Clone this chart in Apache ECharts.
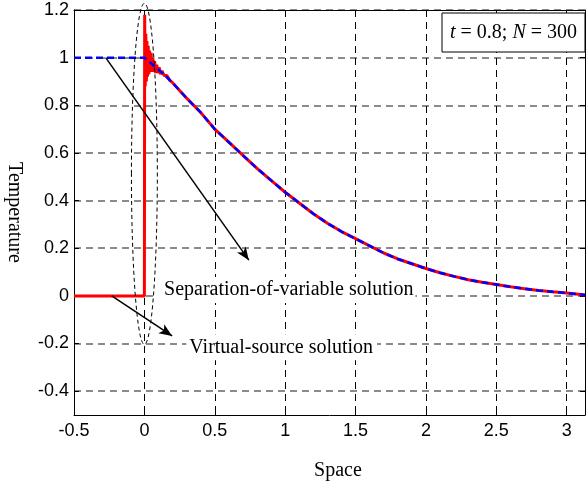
<!DOCTYPE html>
<html>
<head>
<meta charset="utf-8">
<script src="https://cdn.jsdelivr.net/npm/echarts@6/dist/echarts.min.js"></script>
<style>
html, body { margin: 0; padding: 0; background: #fff; }
#main { width: 586px; height: 483px; }
</style>
</head>
<body>
<div id="main"></div>
<script>
// tick labels
const xTicks = [-0.5, 0, 0.5, 1, 1.5, 2, 2.5, 3];
const yTicks = [-0.4, -0.2, 0, 0.2, 0.4, 0.6, 0.8, 1, 1.2];

// separation-of-variable solution (blue dashed)
const sepX = [-0.5, 0, 0.1, 0.2, 0.3, 0.4, 0.5, 0.6, 0.7, 0.8, 0.9, 1.0, 1.1, 1.2, 1.3, 1.4, 1.5,
  1.6, 1.7, 1.8, 1.9, 2.0, 2.1, 2.2, 2.3, 2.4, 2.5, 2.6, 2.7, 2.8, 2.9, 3.0, 3.1, 3.13];
const sepY = [1, 1, 0.95, 0.895, 0.83, 0.77, 0.70, 0.645, 0.59, 0.535, 0.485, 0.435, 0.39, 0.345, 0.305, 0.27, 0.24,
  0.21, 0.18, 0.155, 0.135, 0.115, 0.097, 0.082, 0.068, 0.057, 0.048, 0.038, 0.03, 0.023, 0.017, 0.012, 0.006, 0.004];

// virtual-source solution (red), step + Gibbs ringing near x = 0
const virtHeadX = [-0.5, 0, 0.002, 0.006, 0.01, 0.014, 0.018, 0.022, 0.027, 0.032, 0.037, 0.042, 0.048,
  0.054, 0.06, 0.066, 0.073, 0.08, 0.088, 0.096, 0.105, 0.115, 0.125, 0.14, 0.16, 0.18];
const virtHeadY = [0, 0, 1.18, 0.88, 1.1, 0.9, 1.07, 0.92, 1.05, 0.93, 1.03, 0.94, 1.02,
  0.94, 1.0, 0.94, 0.985, 0.935, 0.97, 0.935, 0.96, 0.93, 0.945, 0.925, 0.925, 0.905];
const virtX = virtHeadX.concat(sepX.slice(3));
const virtY = virtHeadY.concat(sepY.slice(3));

// annotations (data coords)
const arrowSep = [[-0.275, 1.0], [0.742, 0.15]];
const arrowVirt = [[-0.232, 0.0], [0.197, -0.168]];
const sepLabelPos = [0.097, 0.025];
const virtLabelPos = [0.298, -0.216];
const ellipseC = [0.0, 0.512];
const ellipseR = [0.092, 0.716];

const xMin = -0.5, xMax = 3.13, yMin = -0.5, yMax = 1.2;

const serif = '"Liberation Serif", "Times New Roman", serif';
const sans = '"Liberation Sans", Arial, sans-serif';

const myChart = echarts.init(document.getElementById('main'));

const zip = (xs, ys) => xs.map((x, i) => [x, ys[i]]);

const option = {
  animation: false,
  grid: { left: 74, top: 10, right: 1, bottom: 68, show: false, outerBoundsMode: 'none', containLabel: false },
  xAxis: [
    {
      type: 'value', min: xMin, max: xMax,
      name: 'Space', nameLocation: 'middle', nameGap: 46,
      nameTextStyle: { fontFamily: serif, fontSize: 20, color: '#000', padding: [0, 0, 0, 17] },
      axisLine: { show: true, onZero: false, lineStyle: { color: '#000', width: 1 } },
      axisTick: { show: true, inside: true, length: 5, customValues: xTicks, lineStyle: { color: '#000' } },
      axisLabel: { customValues: xTicks, fontFamily: sans, fontSize: 18, color: '#000', margin: 7 },
      splitLine: { show: true, lineStyle: { color: '#000', width: 1, type: [7, 5] } }
    },
    {
      type: 'value', min: xMin, max: xMax, position: 'top',
      axisLine: { show: true, onZero: false, lineStyle: { color: '#000', width: 1 } },
      axisTick: { show: true, inside: true, length: 5, customValues: xTicks, lineStyle: { color: '#000' } },
      axisLabel: { show: false },
      splitLine: { show: false }
    }
  ],
  yAxis: [
    {
      type: 'value', min: yMin, max: yMax,
      name: 'Temperature', nameLocation: 'middle', nameGap: 50, nameRotate: -90,
      nameTextStyle: { fontFamily: serif, fontSize: 20, color: '#000' },
      axisLine: { show: true, onZero: false, lineStyle: { color: '#000', width: 1 } },
      axisTick: { show: true, inside: true, length: 5, customValues: yTicks, lineStyle: { color: '#000' } },
      axisLabel: { customValues: yTicks, fontFamily: sans, fontSize: 18, color: '#000', margin: 5 },
      splitLine: { show: true, lineStyle: { color: '#666', width: 1.5, type: [7, 5] } }
    },
    {
      type: 'value', min: yMin, max: yMax, position: 'right',
      axisLine: { show: true, onZero: false, lineStyle: { color: '#000', width: 1 } },
      axisTick: { show: true, inside: true, length: 5, customValues: yTicks, lineStyle: { color: '#000' } },
      axisLabel: { show: false },
      splitLine: { show: false }
    }
  ],
  series: [
    {
      name: 'Virtual-source solution',
      type: 'line',
      data: zip(virtX, virtY),
      showSymbol: false,
      lineStyle: { color: '#ff0000', width: 3 },
      z: 3,
      markLine: {
        silent: true,
        animation: false,
        symbol: ['none', 'arrow'],
        symbolSize: [8, 13],
        label: { show: false },
        lineStyle: { color: '#000', width: 1.5, type: 'solid' },
        data: [
          [{ coord: arrowSep[0] }, { coord: arrowSep[1] }],
          [{ coord: arrowVirt[0] }, { coord: arrowVirt[1] }]
        ]
      }
    },
    {
      name: 'Separation-of-variable solution',
      type: 'line',
      data: zip(sepX, sepY),
      showSymbol: false,
      lineStyle: { color: '#0000ff', width: 2.5, type: [7, 4] },
      z: 4
    }
  ]
};

myChart.setOption(option, true);

// annotation graphics placed through the grid's coordinate system
const px = (p) => myChart.convertToPixel({ gridIndex: 0 }, p);
const c = px(ellipseC);
const r0 = px([ellipseC[0] + ellipseR[0], ellipseC[1] + ellipseR[1]]);
const sepP = px(sepLabelPos);
const virtP = px(virtLabelPos);
const tr = px([xMax, yMax]);

myChart.setOption({
  graphic: [
    {
      type: 'text', z: 50,
      x: sepP[0], y: sepP[1],
      style: {
        text: 'Separation-of-variable solution',
        font: '20px ' + serif, fill: '#000',
        verticalAlign: 'middle', align: 'left',
        backgroundColor: '#fff', padding: [3, 2, 3, 6]
      }
    },
    {
      type: 'text', z: 50,
      x: virtP[0], y: virtP[1],
      style: {
        text: 'Virtual-source solution',
        font: '20px ' + serif, fill: '#000',
        verticalAlign: 'middle', align: 'left',
        backgroundColor: '#fff', padding: [3, 4, 3, 3]
      }
    },
    {
      type: 'ellipse', z: 60,
      shape: { cx: c[0], cy: c[1], rx: Math.abs(r0[0] - c[0]), ry: Math.abs(c[1] - r0[1]) },
      style: { fill: 'none', stroke: '#000', lineWidth: 1, lineDash: [4, 3] }
    },
    {
      type: 'rect', z: 70,
      shape: { x: tr[0] - 143, y: tr[1] + 3, width: 143, height: 39 },
      style: { fill: '#fff', stroke: '#000', lineWidth: 1 }
    },
    {
      type: 'text', z: 71,
      x: tr[0] - 135, y: tr[1] + 23,
      style: {
        text: '{i|t} = 0.8; {i|N} = 300',
        font: '20px ' + serif, fill: '#000',
        verticalAlign: 'middle', align: 'left',
        rich: { i: { fontStyle: 'italic', fontFamily: serif, fontSize: 20 } }
      }
    }
  ]
});
</script>
</body>
</html>
